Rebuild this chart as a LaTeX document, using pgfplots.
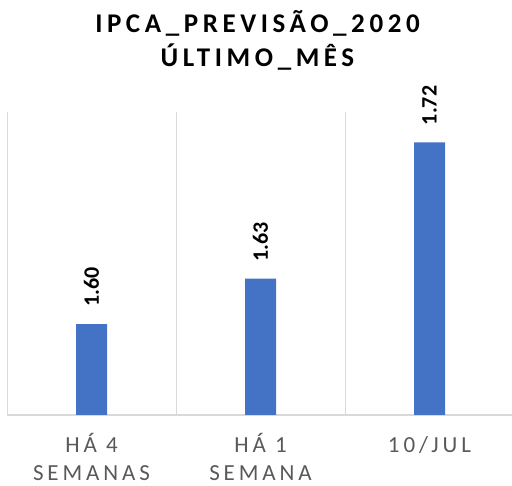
\documentclass[border=0pt]{standalone}
\usepackage{fontspec}
\setmainfont{Carlito}
\newfontfamily\spaced[LetterSpace=17]{Carlito}
\usepackage{pgfplots}
\pgfplotsset{compat=1.18}
\definecolor{barblue}{HTML}{4472C4}
\definecolor{gridgray}{HTML}{D9D9D9}
\definecolor{ticktext}{HTML}{595959}
\begin{document}
\begin{tikzpicture}
\path[use as bounding box] (-7pt,-71pt) rectangle (505pt,415pt);
\begin{axis}[
  at={(0pt,0pt)}, anchor=south west,
  scale only axis, width=505pt, height=303pt,
  xmin=-0.5, xmax=2.488, ymin=1.54, ymax=1.74,
  ybar, bar width=31pt,
  xtick={0,1,2},
  xticklabels={{HÁ 4\\SEMANAS},{HÁ 1\\SEMANA},{10/JUL\\\mbox{}}},
  major tick length=0pt,
  minor xtick={-0.5,0.5,1.5},
  xminorgrids, minor tick length=0pt,
  minor grid style={gridgray, line width=1pt},
  axis x line*=bottom, axis y line=none,
  x axis line style={gridgray, line width=1.2pt},
  ytick=\empty,
  clip=false,
  xticklabel style={font=\spaced\fontsize{23}{28}\selectfont, text=ticktext, align=center, anchor=base, inner sep=0pt, yshift=-66pt},
  nodes near coords={\pgfmathprintnumber[fixed,fixed zerofill,precision=2,assume math mode=true]{\pgfplotspointmeta}},
  nodes near coords style={font=\bfseries\fontsize{22}{22}\selectfont, text=black, rotate=90, anchor=west, inner sep=0pt, inner xsep=17pt},
]
\addplot[fill=barblue, draw=none] coordinates {(0,1.60) (1,1.63) (2,1.72)};
\end{axis}
\node[anchor=base, font=\spaced\bfseries\fontsize{27}{34}\selectfont, text=black] at (250.5pt,382pt) {IPCA\_PREVISÃO\_2020};
\node[anchor=base, font=\spaced\bfseries\fontsize{27}{34}\selectfont, text=black] at (250.5pt,348pt) {ÚLTIMO\_MÊS};
\end{tikzpicture}
\end{document}
